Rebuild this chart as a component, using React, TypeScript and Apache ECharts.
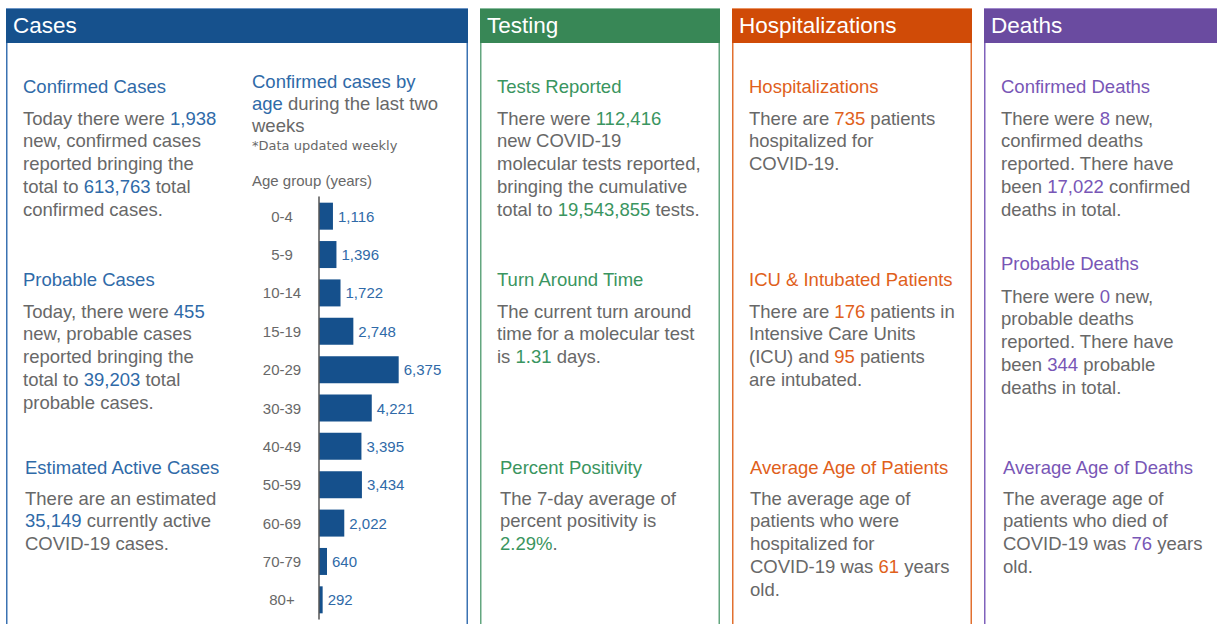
import React, { useEffect, useRef } from "react";
import * as echarts from "echarts";

// ---------- data ----------
const ageGroups = ["0-4", "5-9", "10-14", "15-19", "20-29", "30-39", "40-49", "50-59", "60-69", "70-79", "80+"];
const ageCases = [1116, 1396, 1722, 2748, 6375, 4221, 3395, 3434, 2022, 640, 292];

const panelTitles = ["Cases", "Testing", "Hospitalizations", "Deaths"];

// [[...]] marks a highlighted number
const blockTitles = [
  "Confirmed Cases", "Probable Cases", "Estimated Active Cases",
  "Tests Reported", "Turn Around Time", "Percent Positivity",
  "Hospitalizations", "ICU & Intubated Patients", "Average Age of Patients",
  "Confirmed Deaths", "Probable Deaths", "Average Age of Deaths",
];
const blockLines = [
  ["Today there were [[1,938]]", "new, confirmed cases", "reported bringing the", "total to [[613,763]] total", "confirmed cases."],
  ["Today, there were [[455]]", "new, probable cases", "reported bringing the", "total to [[39,203]] total", "probable cases."],
  ["There are an estimated", "[[35,149]] currently active", "COVID-19 cases."],
  ["There were [[112,416]]", "new COVID-19", "molecular tests reported,", "bringing the cumulative", "total to [[19,543,855]] tests."],
  ["The current turn around", "time for a molecular test", "is [[1.31]] days."],
  ["The 7-day average of", "percent positivity is", "[[2.29%]]."],
  ["There are [[735]] patients", "hospitalized for", "COVID-19."],
  ["There are [[176]] patients in", "Intensive Care Units", "(ICU) and [[95]] patients", "are intubated."],
  ["The average age of", "patients who were", "hospitalized for", "COVID-19 was [[61]] years", "old."],
  ["There were [[8]] new,", "confirmed deaths", "reported. There have", "been [[17,022]] confirmed", "deaths in total."],
  ["There were [[0]] new,", "probable deaths", "reported. There have", "been [[344]] probable", "deaths in total."],
  ["The average age of", "patients who died of", "COVID-19 was [[76]] years", "old."],
];
const chartHeading = ["[[Confirmed cases by]]", "[[age]] during the last two", "weeks"];
const chartNote = "*Data updated weekly";
const chartAxisTitle = "Age group (years)";

// ---------- layout / styles ----------
const FONT = '"Liberation Sans", Arial, Helvetica, sans-serif';
const GRAY = "#686868";
const PANELS = [
  { x: 6, w: 462, header: "#16518d", border: "#3b72b2", accent: "#2f6aa8" },
  { x: 480, w: 240, header: "#388756", border: "#63a67f", accent: "#3a9560" },
  { x: 732, w: 240, header: "#d04b07", border: "#e2702f", accent: "#e0601b" },
  { x: 984, w: 240, header: "#6a4ba0", border: "#8062bb", accent: "#7856b6" },
];
// panel index, x, title y, body start y
const BLOCK_POS = [
  [0, 23, 86, 118], [0, 23, 279, 311], [0, 25, 467, 498],
  [1, 497, 86, 118], [1, 497, 279, 311], [1, 500, 467, 498],
  [2, 749, 86, 118], [2, 749, 279, 311], [2, 750, 467, 498],
  [3, 1001, 86, 118], [3, 1001, 263, 296], [3, 1003, 467, 498],
];
const LINE_H = 22.75;

function richText(s: string) {
  return s.replace(/\[\[(.+?)\]\]/g, "{h|$1}");
}

function textEl(x: number, y: number, text: string, color: string, accent: string, size = 18.5, family = FONT) {
  return {
    type: "text",
    x,
    y,
    silent: true,
    style: {
      text: richText(text),
      fill: color,
      fontSize: size,
      fontFamily: family,
      verticalAlign: "middle",
      align: "left",
      rich: {
        h: { fill: accent, color: accent, fontSize: size, fontFamily: family },
      },
    },
  };
}

export default function App() {
  const ref = useRef<HTMLDivElement>(null);

  useEffect(() => {
    if (!ref.current) return;
    const chart = echarts.init(ref.current, undefined, { renderer: "svg" });

    const graphics: any[] = [];
    PANELS.forEach((p, i) => {
      graphics.push({
        type: "rect",
        silent: true,
        shape: { x: p.x + 0.75, y: 9, width: p.w - 1.5, height: 700 },
        style: { fill: "#ffffff", stroke: p.border, lineWidth: 1.5 },
      });
      graphics.push({
        type: "rect",
        silent: true,
        shape: { x: p.x, y: 9, width: p.w, height: 34 },
        style: { fill: p.header },
      });
      graphics.push(textEl(p.x + 7, 25.5, panelTitles[i], "#ffffff", "#ffffff", 22.5));
    });

    BLOCK_POS.forEach(([pi, x, ty, by], b) => {
      const acc = PANELS[pi].accent;
      graphics.push(textEl(x, ty, blockTitles[b], acc, acc));
      blockLines[b].forEach((ln, k) => {
        graphics.push(textEl(x, by + k * LINE_H, ln, GRAY, acc));
      });
    });

    const acc0 = PANELS[0].accent;
    chartHeading.forEach((ln, k) => graphics.push(textEl(252, 81 + k * 22, ln, GRAY, acc0)));
    graphics.push(textEl(252, 145, chartNote, GRAY, acc0, 13, '"DejaVu Sans", Verdana, sans-serif'));
    graphics.push(textEl(252, 180, chartAxisTitle, GRAY, acc0, 15));

    chart.setOption({
      animation: false,
      backgroundColor: "#ffffff",
      graphic: { elements: graphics },
      grid: { left: 319, top: 197, width: 125, height: 422, containLabel: false },
      xAxis: { type: "value", min: 0, max: 10000, show: false },
      yAxis: {
        type: "category",
        data: ageGroups,
        inverse: true,
        axisLine: { show: true, lineStyle: { color: "#555555", width: 1.5 } },
        axisTick: { show: false },
        axisLabel: { color: GRAY, fontSize: 15, fontFamily: FONT, margin: 37, align: "center" },
        z: 10,
      },
      series: [
        {
          type: "bar",
          data: ageCases,
          barWidth: 27,
          itemStyle: { color: "#15508c" },
          label: {
            show: true,
            position: "right",
            distance: 5,
            color: acc0,
            fontSize: 15,
            fontFamily: FONT,
            formatter: (p: any) => Number(p.value).toLocaleString("en-US"),
          },
          silent: true,
        },
      ],
    });

    return () => chart.dispose();
  }, []);

  return (
    <div
      ref={ref}
      style={{ position: "absolute", left: 0, top: 0, width: 1217, height: 624 }}
    />
  );
}
